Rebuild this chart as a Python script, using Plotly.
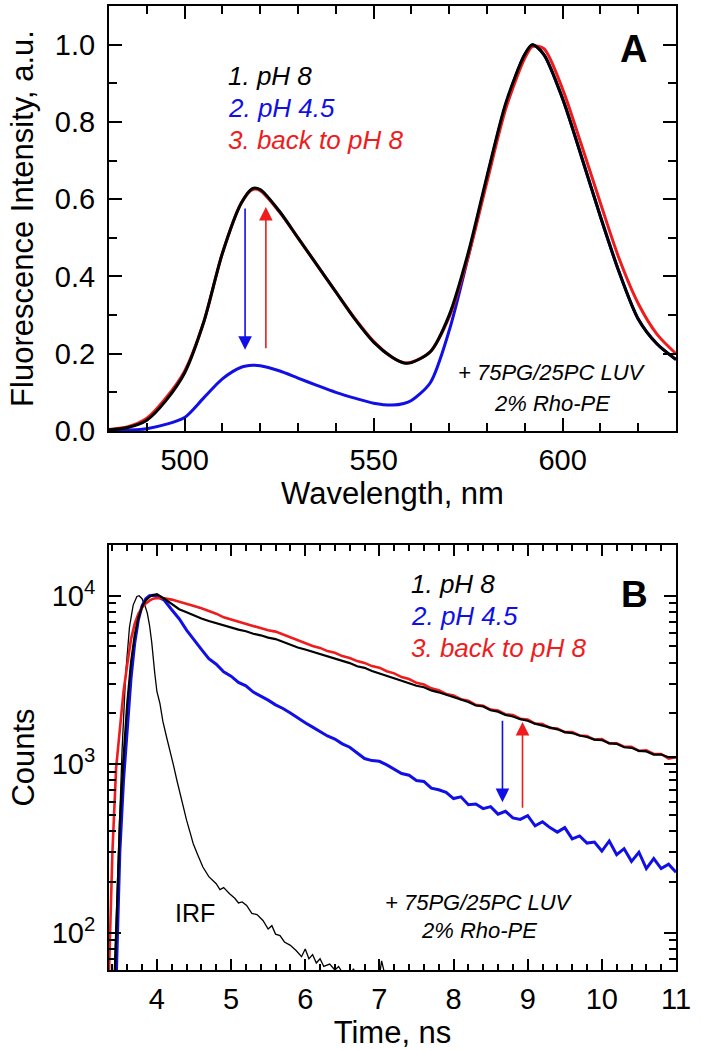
import plotly.graph_objects as go
import math

# ---------------- Panel A: fluorescence spectra ----------------
wavelength = [480, 485, 490, 495, 500, 505, 510, 515, 518, 520, 525, 530, 535, 540, 545,
              550, 555, 558, 560, 565, 570, 575, 580, 585, 590, 592, 595, 600, 605, 610,
              615, 620, 625, 630]
spec_ph8 = [0.003, 0.009, 0.028, 0.078, 0.15, 0.28, 0.46, 0.59, 0.628, 0.625, 0.57, 0.50,
            0.43, 0.36, 0.29, 0.23, 0.19, 0.176, 0.177, 0.205, 0.30, 0.46, 0.66, 0.85,
            0.975, 1.0, 0.975, 0.86, 0.71, 0.555, 0.41, 0.29, 0.225, 0.185]
spec_ph45 = [0.0, 0.002, 0.006, 0.017, 0.035, 0.085, 0.135, 0.165, 0.17, 0.169, 0.156,
             0.137, 0.118, 0.10, 0.085, 0.072, 0.067, 0.071, 0.079, 0.125, 0.26, 0.45,
             0.655, 0.845, 0.975, 1.0, 0.975, 0.86, 0.71, 0.555, 0.41, 0.29, 0.225, 0.185]
spec_back8 = [0.004, 0.011, 0.033, 0.085, 0.155, 0.28, 0.46, 0.59, 0.625, 0.622, 0.568,
              0.50, 0.43, 0.36, 0.292, 0.232, 0.19, 0.177, 0.178, 0.205, 0.295, 0.45,
              0.645, 0.835, 0.965, 0.995, 0.99, 0.885, 0.74, 0.59, 0.445, 0.33, 0.25, 0.20]

# ---------------- Panel B: fluorescence decays ----------------
t_decay = [4.1, 4.2, 4.3, 4.4, 4.5, 4.6, 4.7, 4.8, 4.9, 5.0,
           5.1, 5.2, 5.3, 5.4, 5.5, 5.6, 5.7, 5.8, 5.9, 6.0,
           6.1, 6.2, 6.3, 6.4, 6.5, 6.6, 6.7, 6.8, 6.9, 7.0,
           7.1, 7.2, 7.3, 7.4, 7.5, 7.6, 7.7, 7.8, 7.9, 8.0,
           8.1, 8.2, 8.3, 8.4, 8.5, 8.6, 8.7, 8.8, 8.9, 9.0,
           9.1, 9.2, 9.3, 9.4, 9.5, 9.6, 9.7, 9.8, 9.9, 10.0,
           10.1, 10.2, 10.3, 10.4, 10.5, 10.6, 10.7, 10.8, 10.9, 11.0]

rise_t_ph8 = [3.43, 3.47, 3.50, 3.55, 3.60, 3.65, 3.70, 3.75, 3.80, 3.85, 3.90, 3.95, 4.00]
rise_c_ph8 = [50, 200, 450, 1100, 2300, 4000, 5800, 7400, 8600, 9400, 9850, 10100, 10200]
decay_ph8 = [9600, 8950, 8320, 7980, 7620, 7330, 7080, 6880, 6620, 6470,
             6290, 6150, 5950, 5820, 5640, 5530, 5320, 5120, 4930, 4790,
             4640, 4530, 4390, 4260, 4090, 3980, 3810, 3730, 3570, 3460,
             3350, 3250, 3130, 3020, 2920, 2860, 2740, 2670, 2580, 2510,
             2400, 2340, 2230, 2200, 2090, 2050, 1960, 1920, 1850, 1810,
             1740, 1700, 1650, 1610, 1550, 1530, 1480, 1450, 1400, 1390,
             1330, 1320, 1260, 1250, 1200, 1190, 1140, 1140, 1100, 1100]

rise_t_back8 = [3.35, 3.40, 3.45, 3.50, 3.55, 3.60, 3.65, 3.70, 3.75, 3.80, 3.85, 3.90, 3.95, 4.00]
rise_c_back8 = [50, 300, 950, 1700, 2700, 3900, 5500, 6800, 7800, 8500, 9000, 9350, 9600, 9700]
decay_back8 = [9650, 9480, 9230, 8980, 8680, 8420, 8130, 7820, 7440, 7230,
               6980, 6820, 6580, 6440, 6230, 6120, 5880, 5670, 5410, 5250,
               5030, 4900, 4690, 4580, 4380, 4270, 4090, 3990, 3820, 3740,
               3560, 3460, 3290, 3200, 3040, 2970, 2820, 2750, 2610, 2560,
               2430, 2380, 2250, 2220, 2110, 2080, 1980, 1960, 1860, 1840,
               1740, 1730, 1640, 1630, 1550, 1550, 1480, 1470, 1400, 1410,
               1330, 1330, 1270, 1270, 1200, 1210, 1150, 1150, 1080, 1100]

rise_t_ph45 = [3.45, 3.50, 3.55, 3.60, 3.65, 3.70, 3.75, 3.80, 3.85, 3.90, 3.95, 4.00]
rise_c_ph45 = [50, 300, 800, 1700, 3200, 5200, 7200, 8700, 9600, 10000, 10050, 9950]
decay_ph45 = [9400, 8250, 7300, 6250, 5450, 4800, 4230, 3920, 3540, 3330,
              3060, 2920, 2680, 2540, 2400, 2250, 2140, 2010, 1870, 1760,
              1660, 1570, 1470, 1410, 1320, 1260, 1170, 1080, 1050, 1040,
              990, 935, 880, 860, 800, 790, 720, 705, 680, 625,
              640, 575, 580, 545, 560, 505, 525, 480, 470, 495,
              430, 455, 420, 395, 420, 360, 375, 340, 345, 305,
              350, 290, 315, 265, 300, 240, 275, 240, 255, 228]

irf_t = [3.42, 3.48, 3.53, 3.58, 3.63, 3.68, 3.73, 3.76, 3.80, 3.84, 3.87, 3.90, 3.93,
         3.97, 4.00, 4.04, 4.08, 4.13, 4.18, 4.22, 4.27, 4.31, 4.36, 4.40, 4.45, 4.49,
         4.55, 4.62, 4.70, 4.75, 4.80, 4.85, 4.90, 4.98, 5.05, 5.10, 5.15, 5.21, 5.28,
         5.35, 5.43, 5.50, 5.55, 5.60, 5.66, 5.72, 5.80, 5.88, 5.95, 6.00, 6.05, 6.10,
         6.15, 6.20, 6.25, 6.33, 6.40, 6.45, 6.50, 6.60, 6.65, 6.70, 7.00, 7.03, 7.08]
irf_c = [50, 300, 1200, 3500, 6500, 8800, 9900, 10000, 9600, 8700, 7900, 6700, 5300,
         3500, 2700, 2300, 1800, 1450, 1200, 1000, 800, 670, 550, 465, 390, 337,
         290, 245, 215, 205, 195, 180, 185, 170, 160, 150, 152, 145, 130,
         128, 118, 105, 110, 98, 96, 88, 84, 78, 72, 80, 70, 74,
         66, 70, 63, 65, 60, 63, 58, 55, 61, 55, 55, 68, 55]

# annotation arrows (tail -> head), data units
arrowA_x = [516, 521.5]
arrowA_tail = [0.58, 0.21]
arrowA_head = [0.21, 0.58]
arrowB_x = [8.66, 8.93]
arrowB_tail = [1850, 540]
arrowB_head = [595, 1780]

BLACK = "#000000"
BLUE = "#1010e6"
RED = "#ee1c1c"
FONT = "Liberation Sans, Arial, sans-serif"

W, H = 701, 1050
def px(x):
    return x / W
def py(y):
    return 1 - y / H

fig = go.Figure()

# Panel A traces
fig.add_trace(go.Scatter(x=wavelength, y=spec_ph45, mode="lines", name="2. pH 4.5",
                         line=dict(color=BLUE, width=3, shape="spline", smoothing=0.8),
                         xaxis="x", yaxis="y"))
fig.add_trace(go.Scatter(x=wavelength, y=spec_back8, mode="lines", name="3. back to pH 8",
                         line=dict(color=RED, width=3, shape="spline", smoothing=0.8),
                         xaxis="x", yaxis="y"))
fig.add_trace(go.Scatter(x=wavelength, y=spec_ph8, mode="lines", name="1. pH 8",
                         line=dict(color=BLACK, width=3, shape="spline", smoothing=0.8),
                         xaxis="x", yaxis="y"))

# Panel B traces
fig.add_trace(go.Scatter(x=irf_t, y=irf_c, mode="lines", name="IRF",
                         line=dict(color=BLACK, width=1.3), xaxis="x2", yaxis="y2"))
fig.add_trace(go.Scatter(x=rise_t_ph45 + t_decay, y=rise_c_ph45 + decay_ph45, mode="lines",
                         name="2. pH 4.5", line=dict(color=BLUE, width=3),
                         xaxis="x2", yaxis="y2"))
fig.add_trace(go.Scatter(x=rise_t_back8 + t_decay, y=rise_c_back8 + decay_back8, mode="lines",
                         name="3. back to pH 8", line=dict(color=RED, width=2.6),
                         xaxis="x2", yaxis="y2"))
fig.add_trace(go.Scatter(x=rise_t_ph8 + t_decay, y=rise_c_ph8 + decay_ph8, mode="lines",
                         name="1. pH 8", line=dict(color=BLACK, width=2.2),
                         xaxis="x2", yaxis="y2"))

axis_common = dict(showline=True, linecolor="black", linewidth=2, mirror="ticks",
                   ticks="inside", tickwidth=2, tickcolor="black", showgrid=False,
                   zeroline=False, tickfont=dict(family=FONT, size=29, color="black"),
                   automargin=False)

dom_x = [px(109), px(676)]
fig.update_layout(
    width=W, height=H,
    margin=dict(l=0, r=0, t=0, b=0),
    paper_bgcolor="white", plot_bgcolor="white",
    showlegend=False,
    font=dict(family=FONT, color="black"),
    xaxis=dict(domain=dom_x, anchor="y", range=[480, 630], tick0=500, dtick=50, ticklen=13,
               minor=dict(ticks="inside", ticklen=8, tickwidth=2, tickcolor="black", dtick=10),
               title=dict(text="Wavelength, nm", font=dict(size=31), standoff=6),
               ticklabelstandoff=2, **axis_common),
    yaxis=dict(domain=[py(431), py(6)], anchor="x", range=[0, 1.1], dtick=0.2, tickformat=".1f",
               ticklen=13,
               minor=dict(ticks="inside", ticklen=8, tickwidth=2, tickcolor="black", dtick=0.1),
               title=dict(text="Fluorescence Intensity, a.u.", font=dict(size=31), standoff=12),
               ticklabelstandoff=6, **axis_common),
    xaxis2=dict(domain=dom_x, anchor="y2", range=[3.354, 11.0], dtick=1, ticklen=11,
                minor=dict(ticks="inside", ticklen=6, tickwidth=2, tickcolor="black", dtick=0.2),
                title=dict(text="Time, ns", font=dict(size=31), standoff=6),
                ticklabelstandoff=2, **axis_common),
    yaxis2=dict(domain=[py(970), py(545)], anchor="x2", type="log",
                range=[math.log10(60), math.log10(20000)],
                tickvals=[100, 1000, 10000],
                ticktext=["10<sup>2</sup>", "10<sup>3</sup>", "10<sup>4</sup>"],
                ticklen=12,
                minor=dict(ticks="inside", ticklen=7, tickwidth=2, tickcolor="black",
                           tickvals=[60, 70, 80, 90, 200, 300, 400, 500, 600, 700, 800, 900,
                                     2000, 3000, 4000, 5000, 6000, 7000, 8000, 9000, 20000]),
                title=dict(text="Counts", font=dict(size=31), standoff=8),
                ticklabelstandoff=6, **axis_common),
)

ann = []
def label(text, x, y, color="black", size=26, xanchor="left"):
    ann.append(dict(text=text, x=px(x), y=py(y), xref="paper", yref="paper",
                    xanchor=xanchor, yanchor="middle", showarrow=False,
                    font=dict(family=FONT, size=size, color=color)))

# Panel A labels
label("<i>1. pH 8</i>", 226, 76, BLACK)
label("<i>2. pH 4.5</i>", 226, 108, BLUE)
label("<i>3. back to pH 8</i>", 226, 140, RED)
label("<i>+ 75PG/25PC LUV</i>", 552, 372, BLACK, 22, "center")
label("<i>2% Rho-PE</i>", 552, 403, BLACK, 22, "center")
label("<b>A</b>", 633, 49, BLACK, 38, "center")

# Panel B labels
label("<i>1. pH 8</i>", 409, 584, BLACK)
label("<i>2. pH 4.5</i>", 409, 616, BLUE)
label("<i>3. back to pH 8</i>", 409, 648, RED)
label("<i>+ 75PG/25PC LUV</i>", 479, 902, BLACK, 22, "center")
label("<i>2% Rho-PE</i>", 479, 930, BLACK, 22, "center")
label("IRF", 195, 913, BLACK, 25, "center")
label("<b>B</b>", 634, 594, BLACK, 37, "center")

# Arrows panel A
for xa, yt, yh, col in zip(arrowA_x, arrowA_tail, arrowA_head, [BLUE, RED]):
    ann.append(dict(x=xa, y=yh, ax=xa, ay=yt, xref="x", yref="y", axref="x", ayref="y",
                    text="", showarrow=True, arrowhead=2, arrowsize=1.7, arrowwidth=1.6,
                    arrowcolor=col))
# Arrows panel B (log axis -> log10 coordinates)
for xa, yt, yh, col in zip(arrowB_x, arrowB_tail, arrowB_head, [BLUE, RED]):
    ann.append(dict(x=xa, y=math.log10(yh), ax=xa, ay=math.log10(yt), xref="x2", yref="y2",
                    axref="x2", ayref="y2", text="", showarrow=True, arrowhead=2,
                    arrowsize=1.7, arrowwidth=1.6, arrowcolor=col))

fig.update_layout(annotations=ann)
fig.write_html("out.html", config={"displayModeBar": False},
               post_script="document.body.style.margin='0px';document.body.style.padding='0px';")
